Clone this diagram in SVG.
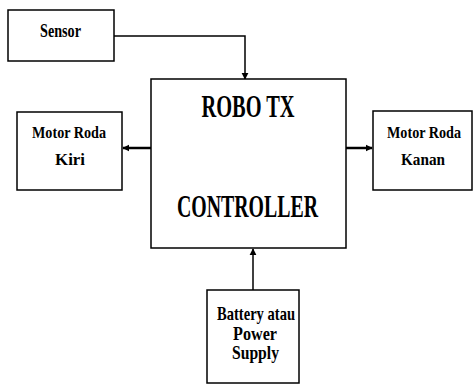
<svg xmlns="http://www.w3.org/2000/svg" width="474" height="385" viewBox="0 0 474 385">
<style>
.box{fill:#fff;stroke:#000;stroke-width:1.5}
.t{font-family:"Liberation Serif",serif;font-weight:bold;fill:#000;text-anchor:middle}
.s{font-size:19px}
.m{font-size:17px}
.b{font-size:31px}
.ln{fill:none;stroke:#000;stroke-width:1.5}
.th{fill:none;stroke:#000;stroke-width:2.5}
</style>
<defs>
<marker id="ah2" viewBox="0 0 10 10" refX="9" refY="5" markerWidth="7" markerHeight="8" orient="auto" markerUnits="userSpaceOnUse">
<path d="M0,0 L10,5 L0,10 z" fill="#000"/>
</marker>
</defs>
<g id="connectors">
<polyline class="ln" points="114,36 245,36 245,79" marker-end="url(#ah2)"/>
<line class="th" x1="151" y1="148" x2="123" y2="148" marker-end="url(#ah2)"/>
<line class="th" x1="346" y1="148" x2="372" y2="148" marker-end="url(#ah2)"/>
<line class="ln" x1="253" y1="290" x2="253" y2="249" marker-end="url(#ah2)"/>
</g>
<g id="sensor">
<rect class="box" x="8" y="10" width="106" height="51"/>
<text class="t s" x="60.5" y="37" textLength="41" lengthAdjust="spacingAndGlyphs">Sensor</text>
</g>
<g id="controller">
<rect class="box" x="151" y="79" width="195" height="169"/>
<text class="t b" x="248" y="117" textLength="93" lengthAdjust="spacingAndGlyphs">ROBO TX</text>
<text class="t b" x="247.5" y="217" textLength="141" lengthAdjust="spacingAndGlyphs">CONTROLLER</text>
</g>
<g id="motor-kiri">
<rect class="box" x="17" y="112" width="105" height="78"/>
<text class="t m" x="69" y="138" textLength="74" lengthAdjust="spacingAndGlyphs">Motor Roda</text>
<text class="t m" x="70" y="165" textLength="30" lengthAdjust="spacingAndGlyphs">Kiri</text>
</g>
<g id="motor-kanan">
<rect class="box" x="373" y="111" width="99" height="79"/>
<text class="t m" x="424" y="138" textLength="74" lengthAdjust="spacingAndGlyphs">Motor Roda</text>
<text class="t m" x="423" y="165" textLength="44" lengthAdjust="spacingAndGlyphs">Kanan</text>
</g>
<g id="battery">
<rect class="box" x="207" y="290" width="92" height="93"/>
<text class="t s" x="256" y="320" textLength="78" lengthAdjust="spacingAndGlyphs">Battery atau</text>
<text class="t s" x="255" y="340" textLength="44" lengthAdjust="spacingAndGlyphs">Power</text>
<text class="t s" x="255.5" y="359" textLength="47" lengthAdjust="spacingAndGlyphs">Supply</text>
</g>
</svg>
